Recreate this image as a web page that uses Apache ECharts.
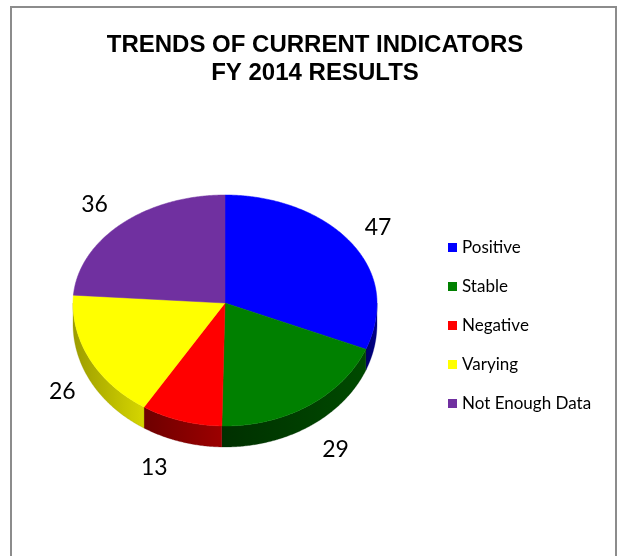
<!DOCTYPE html>
<html><head><meta charset="utf-8">
<script src="https://cdn.jsdelivr.net/npm/echarts@6/dist/echarts.min.js"></script>
<style>html,body{margin:0;padding:0;background:#fff}#c{width:621px;height:556px}</style>
</head><body><div id="c"></div>
<script>
// ---- data ----
const categories = ['Positive', 'Stable', 'Negative', 'Varying', 'Not Enough Data'];
const values = [47, 29, 13, 26, 36];
const topColors = ['#0000FF', '#008000', '#FF0000', '#FFFF00', '#7030A0'];
const sideColors = [['#000066', '#00008c'], ['#003000', '#004a00'], ['#6e0000', '#9c0000'], ['#9c9c00', '#d6d600'], ['#3a1858', '#502078']];
const titleLines = ['TRENDS OF CURRENT INDICATORS', 'FY 2014 RESULTS'];

// ---- layout ----
const total = values.reduce((a, b) => a + b, 0);
const CX = 225, CY = 303, RX = 152, RY_TOP = 108, RY_BOT = 123, DEPTH = 21;
function pt(deg, dy) {
  const t = deg * Math.PI / 180, c = Math.cos(t);
  const ry = c >= 0 ? RY_TOP : RY_BOT;
  return [CX + RX * Math.sin(t), CY - ry * c + (dy || 0)];
}
function arc(a, b, dy) {
  const pts = [];
  const n = Math.max(2, Math.ceil((b - a) / 0.5));
  for (let k = 0; k <= n; k++) pts.push(pt(a + (b - a) * k / n, dy));
  return pts;
}

function renderItem(params, api) {
  const i = params.seriesIndex;
  let start = 0;
  for (let k = 0; k < i; k++) start += values[k];
  const v = api.value(0);
  const a = start / total * 360, b = (start + v) / total * 360;
  const color = api.visual('color');
  const children = [];
  const sa = Math.max(a, 90), sb = Math.min(b, 270);
  if (sa < sb) {
    const pts = arc(sa, sb, 0).concat(arc(sa, sb, DEPTH).reverse());
    children.push({
      type: 'polygon', z2: 1,
      shape: { points: pts },
      style: {
        fill: new echarts.graphic.LinearGradient(0, 0, 1, 0, [
          { offset: 0, color: sideColors[i][0] },
          { offset: 1, color: sideColors[i][1] }
        ]),
        stroke: sideColors[i][0], lineWidth: 0.3
      }
    });
  }
  children.push({
    type: 'polygon', z2: 10,
    shape: { points: [[CX, CY]].concat(arc(a, b, 0)) },
    style: { fill: color, stroke: color, lineWidth: 0.5 }
  });
  const mid = (a + b) / 2, t = mid * Math.PI / 180;
  const s = Math.sin(t), c = Math.cos(t);
  const p = pt(mid, c < 0 ? DEPTH : 0);
  children.push({
    type: 'text', z2: 20,
    x: p[0] + (s >= 0 ? 1 : -1) * 27,
    y: p[1] - c * 27,
    style: {
      text: String(v), fill: '#000',
      font: '23px Lato', align: 'center', verticalAlign: 'middle'
    }
  });
  return { type: 'group', children: children };
}

const chart = echarts.init(document.getElementById('c'));
chart.setOption({
  animation: false,
  backgroundColor: '#fff',
  title: {
    text: titleLines.join('\n'),
    left: 315, top: 31, textAlign: 'center', padding: 0,
    textStyle: { fontFamily: 'Liberation Sans', fontWeight: 'bold', fontSize: 24, lineHeight: 28, color: '#000' }
  },
  legend: {
    orient: 'vertical', left: 448, top: 239, padding: 0,
    itemWidth: 9, itemHeight: 9, itemGap: 22, icon: 'rect',
    data: categories,
    textStyle: { fontFamily: 'Lato', fontSize: 17, color: '#000' }
  },
  graphic: [{
    type: 'rect', silent: true,
    shape: { x: 11, y: 7, width: 605, height: 600 },
    style: { fill: 'none', stroke: '#8c8c8c', lineWidth: 2 }
  }],
  series: categories.map((name, i) => ({
    type: 'custom', name: name, coordinateSystem: 'none',
    data: [values[i]],
    itemStyle: { color: topColors[i] },
    renderItem: renderItem
  }))
});
</script>
</body></html>
